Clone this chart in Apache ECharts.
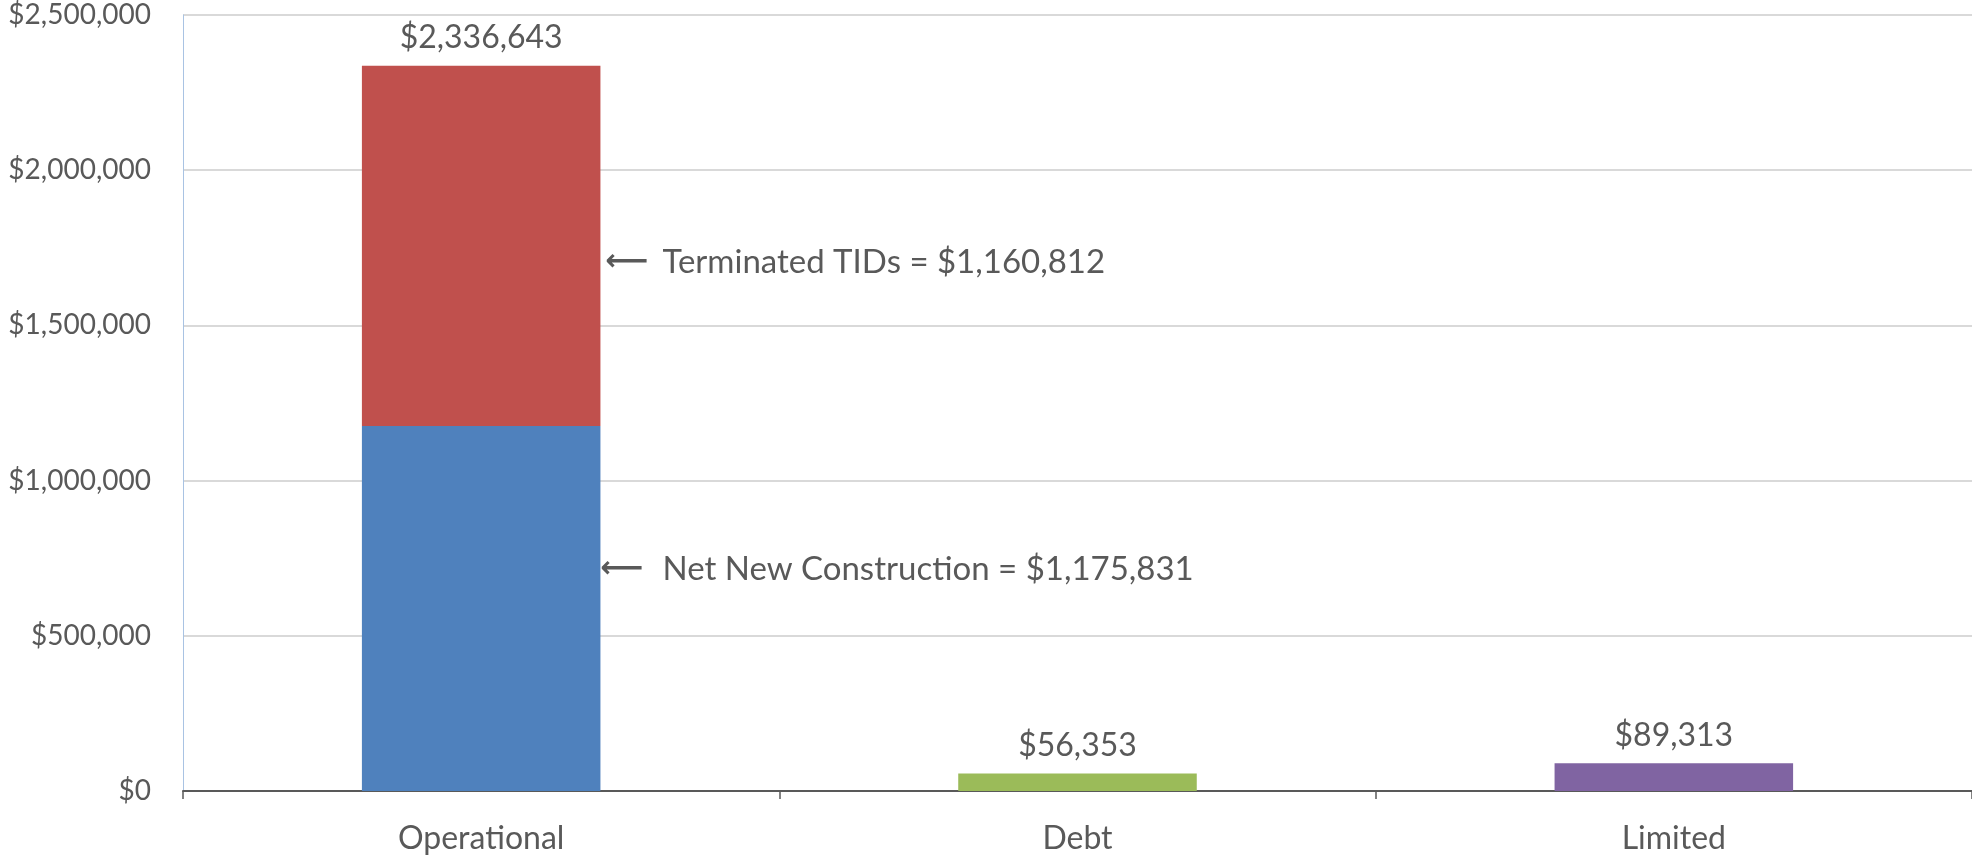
<!DOCTYPE html>
<html>
<head>
<meta charset="utf-8">
<script src="https://cdn.jsdelivr.net/npm/echarts@6/dist/echarts.min.js"></script>
<style>
html,body{margin:0;padding:0;background:#fff;}
#c{width:1972px;height:858px;}
</style>
</head>
<body>
<div id="c"></div>
<script>
var categories = ['Operational', 'Debt', 'Limited'];
var netNewConstruction = [1175831, null, null];
var terminatedTIDs = [1160812, null, null];
var debtValues = [null, 56353, null];
var limitedValues = [null, null, 89313];
var totals = [2336643, 56353, 89313];
var yTicks = { min: 0, max: 2500000, interval: 500000 };

var FONT = 'Lato';
var TXT = '#595959';
function money(v) { return '$' + Math.round(v).toLocaleString('en-US'); }

function arrowRich(pad) {
  return { a: { fontFamily: 'DejaVu Sans', fontSize: 30, fontWeight: 'bold', color: TXT, padding: [0, pad, 0, 0] } };
}

var chart = echarts.init(document.getElementById('c'));
chart.setOption({
  animation: false,
  grid: { left: 183, right: 0, top: 15, bottom: 67, containLabel: false },
  xAxis: {
    type: 'category',
    data: categories,
    axisLine: { lineStyle: { color: '#595959', width: 2 } },
    axisTick: { show: true, length: 8, lineStyle: { color: '#595959', width: 1.5 } },
    axisLabel: { color: TXT, fontFamily: FONT, fontSize: 32, margin: 32 },
    splitLine: { show: false }
  },
  yAxis: {
    type: 'value',
    min: yTicks.min, max: yTicks.max, interval: yTicks.interval,
    axisLine: { show: true, lineStyle: { color: '#a9c3e3', width: 1 } },
    axisTick: { show: false },
    axisLabel: { color: TXT, fontFamily: FONT, fontSize: 28, margin: 32, formatter: money },
    splitLine: { lineStyle: { color: '#d9d9d9', width: 2 } }
  },
  series: [
    {
      name: 'Net New Construction', type: 'bar', stack: 's', data: netNewConstruction,
      barCategoryGap: '60%',
      itemStyle: { color: '#4f81bd' },
      label: {
        show: true, position: 'right', distance: 0, offset: [0, -39],
        color: TXT, fontFamily: FONT, fontSize: 33,
        formatter: function (p) { return '{a|\u27F5}Net New Construction = ' + money(p.value); },
        rich: arrowRich(19)
      }
    },
    {
      name: 'Terminated TIDs', type: 'bar', stack: 's', data: terminatedTIDs,
      itemStyle: { color: '#c0504d' },
      label: {
        show: true, position: 'right', distance: 5, offset: [0, 16],
        color: TXT, fontFamily: FONT, fontSize: 33,
        formatter: function (p) { return '{a|\u27F5}Terminated TIDs = ' + money(p.value); },
        rich: arrowRich(14)
      }
    },
    {
      name: 'Debt', type: 'bar', stack: 's', data: debtValues,
      itemStyle: { color: '#9bbb59' }
    },
    {
      name: 'Limited', type: 'bar', stack: 's', data: limitedValues,
      itemStyle: { color: '#8064a2' }
    },
    {
      name: 'Total', type: 'bar', data: totals, barGap: '-100%',
      itemStyle: { color: 'rgba(0,0,0,0)' },
      silent: true, z: 1,
      label: {
        show: true, position: 'top', distance: 12,
        color: TXT, fontFamily: FONT, fontSize: 32,
        formatter: function (p) { return money(p.value); }
      }
    }
  ]
});
</script>
</body>
</html>
